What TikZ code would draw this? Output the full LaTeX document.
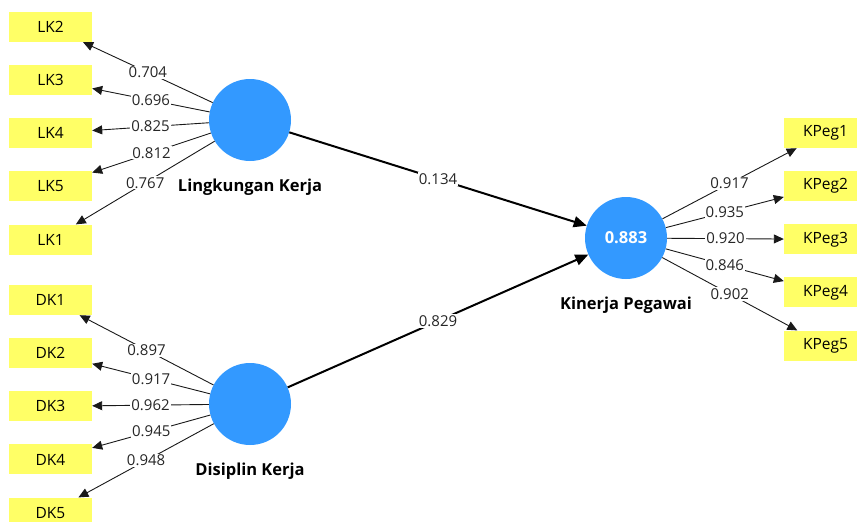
\documentclass[tikz,border=0pt]{standalone}
\usepackage{fontspec}
\setmainfont{Open Sans}
\usetikzlibrary{arrows.meta, positioning}

\definecolor{indyellow}{RGB}{255,255,102}
\definecolor{latblue}{RGB}{51,153,255}

\begin{document}
\begin{tikzpicture}[
  x=1pt, y=-1pt,
  ind/.style={fill=indyellow, minimum width=83pt, minimum height=30pt,
              inner sep=0pt, font=\fontsize{15.5}{18}\selectfont},
  lat/.style={circle, fill=latblue, minimum size=82pt, inner sep=0pt,
              text=white, font=\bfseries\fontsize{16.5}{19}\selectfont},
  latname/.style={font=\bfseries\fontsize{16.5}{19}\selectfont},
  load/.style={-{Triangle[length=10pt,width=9pt]}, line width=0.9pt, draw=black!90},
  effect/.style={-{Triangle[length=13pt,width=11pt]}, line width=2pt},
  val/.style={fill=white, inner sep=1pt, font=\fontsize{15}{18}\selectfont, text=black!85},
  node distance=22.75pt
]
  \clip (0,0) rectangle (857,522);

  % constructs
  \node[lat] (lk) at (250,120) {};
  \node[lat] (dk) at (250,404) {};
  \node[lat] (kp) at (626,238) {0.883};
  \node[latname, below=14pt of lk] (lkname) {Lingkungan Kerja};
  \node[latname, below=14pt of dk] (dkname) {Disiplin Kerja};
  \node[latname, below=14pt of kp] (kpname) {Kinerja Pegawai};

  % indicators, left top
  \node[ind] (lk2) at (50.5,27) {LK2};
  \node[ind, below=of lk2] (lk3) {LK3};
  \node[ind, below=of lk3] (lk4) {LK4};
  \node[ind, below=of lk4] (lk5) {LK5};
  \node[ind, below=of lk5] (lk1) {LK1};

  % indicators, left bottom
  \node[ind] (dk1) at (50.5,300) {DK1};
  \node[ind, below=of dk1] (dk2) {DK2};
  \node[ind, below=of dk2] (dk3) {DK3};
  \node[ind, below=of dk3] (dk4) {DK4};
  \node[ind, below=of dk4] (dk5) {DK5};

  % indicators, right
  \node[ind] (kpeg1) at (825.5,133) {KPeg1};
  \node[ind, below=of kpeg1] (kpeg2) {KPeg2};
  \node[ind, below=of kpeg2] (kpeg3) {KPeg3};
  \node[ind, below=of kpeg3] (kpeg4) {KPeg4};
  \node[ind, below=of kpeg4] (kpeg5) {KPeg5};

  % outer loadings
  \draw[load] (lk) -- node[val] {0.704} (lk2);
  \draw[load] (lk) -- node[val] {0.696} (lk3);
  \draw[load] (lk) -- node[val] {0.825} (lk4);
  \draw[load] (lk) -- node[val] {0.812} (lk5);
  \draw[load] (lk) -- node[val] {0.767} (lk1);

  \draw[load] (dk) -- node[val] {0.897} (dk1);
  \draw[load] (dk) -- node[val] {0.917} (dk2);
  \draw[load] (dk) -- node[val] {0.962} (dk3);
  \draw[load] (dk) -- node[val] {0.945} (dk4);
  \draw[load] (dk) -- node[val] {0.948} (dk5);

  \draw[load] (kp) -- node[val] {0.917} (kpeg1);
  \draw[load] (kp) -- node[val] {0.935} (kpeg2);
  \draw[load] (kp) -- node[val] {0.920} (kpeg3);
  \draw[load] (kp) -- node[val] {0.846} (kpeg4);
  \draw[load] (kp) -- node[val] {0.902} (kpeg5);

  % path coefficients
  \draw[effect] (lk) -- node[val] {0.134} (kp);
  \draw[effect] (dk) -- node[val] {0.829} (kp);
\end{tikzpicture}
\end{document}
